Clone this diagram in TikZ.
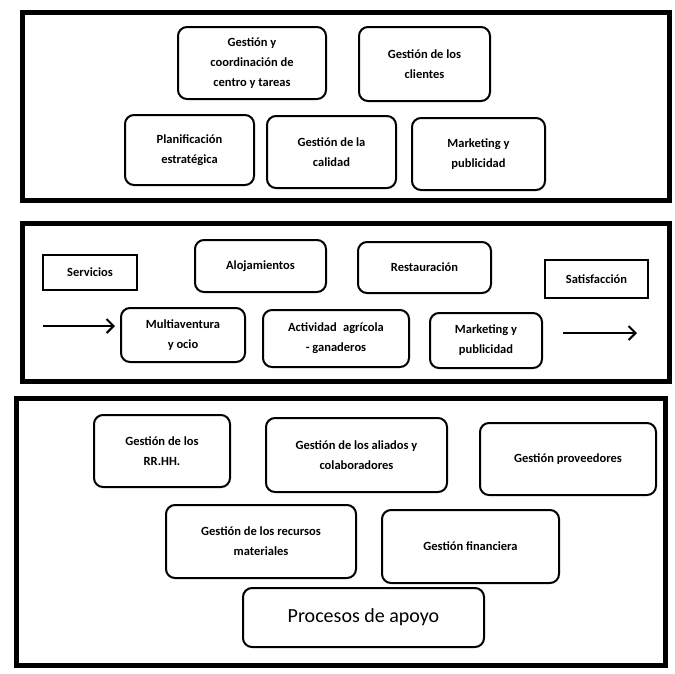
\documentclass[tikz,border=0pt]{standalone}
\usepackage{fontspec}
\setmainfont{Carlito}
\usetikzlibrary{arrows.meta}
\begin{document}
\begin{tikzpicture}[x=1pt,y=-1pt,
  panel/.style={draw=black,line width=5pt},
  rbox/.style={draw=black,line width=2pt,rounded corners=9pt,align=center,
    font=\bfseries\fontsize{12.5}{20}\selectfont,inner sep=2pt},
  sbox/.style={draw=black,line width=2.5pt,align=center,
    font=\bfseries\fontsize{12.5}{20}\selectfont,inner sep=2pt},
  flow/.style={line width=1.8pt,-{Straight Barb[length=7pt,width=14pt,line width=2pt]}}]
\useasboundingbox (0,0) rectangle (675,673);
\fill[white] (0,0) rectangle (675,673);
% panels
\draw[panel] (22,12) rectangle (669,200);
\draw[panel] (22,223) rectangle (669,381);
\draw[panel] (16,398) rectangle (665,665);
% panel 1
\node[rbox,minimum width=148,minimum height=72] (a1) at (252,63) {Gestión y\\coordinación de\\centro y tareas};
\node[rbox,minimum width=131,minimum height=74] (a2) at (424.5,64) {Gestión de los\\clientes};
\node[rbox,minimum width=129,minimum height=70] (b1) at (189.5,150) {Planificación\\estratégica};
\node[rbox,minimum width=129,minimum height=72] (b2) at (331.5,152) {Gestión de la\\calidad};
\node[rbox,minimum width=133,minimum height=72] (b3) at (478.5,154) {Marketing y\\publicidad};
% panel 2
\node[sbox,minimum width=94,minimum height=35] (serv) at (90,272.5) {Servicios};
\node[rbox,minimum width=131,minimum height=52] (aloj) at (260.5,266) {Alojamientos};
\node[rbox,minimum width=133,minimum height=51] (rest) at (424.5,267.5) {Restauración};
\node[sbox,minimum width=103,minimum height=38] (sat) at (596.5,279) {Satisfacción};
\node[rbox,minimum width=124,minimum height=54] (multi) at (183,335) {Multiaventura\\y ocio};
\node[rbox,minimum width=146,minimum height=57] (act) at (336,338.5) {Actividad\enspace agrícola\\- ganaderos};
\node[rbox,minimum width=112,minimum height=55] (mk2) at (486,340.5) {Marketing y\\publicidad};
\coordinate (lin) at (43,326);
\coordinate (rout) at (637,333);
\draw[flow,shorten >=5pt] (lin) -- (multi.west |- lin);
\draw[flow] (mk2.east |- rout) ++(20,0) -- (rout);
% panel 3
\node[rbox,minimum width=136,minimum height=72] (rrhh) at (162,451) {Gestión de los\\RR.HH.};
\node[rbox,minimum width=181,minimum height=74] (ali) at (356.5,455) {Gestión de los aliados y\\colaboradores};
\node[rbox,minimum width=176,minimum height=72] (prov) at (568,459) {Gestión proveedores};
\node[rbox,minimum width=190,minimum height=73] (rec) at (261,541.5) {Gestión de los recursos\\materiales};
\node[rbox,minimum width=177,minimum height=73] (fin) at (470.5,546.5) {Gestión financiera};
\node[rbox,minimum width=241,minimum height=59,font=\fontsize{20}{24}\selectfont] (apoyo) at (363.5,617.5) {Procesos de apoyo};
\end{tikzpicture}
\end{document}
